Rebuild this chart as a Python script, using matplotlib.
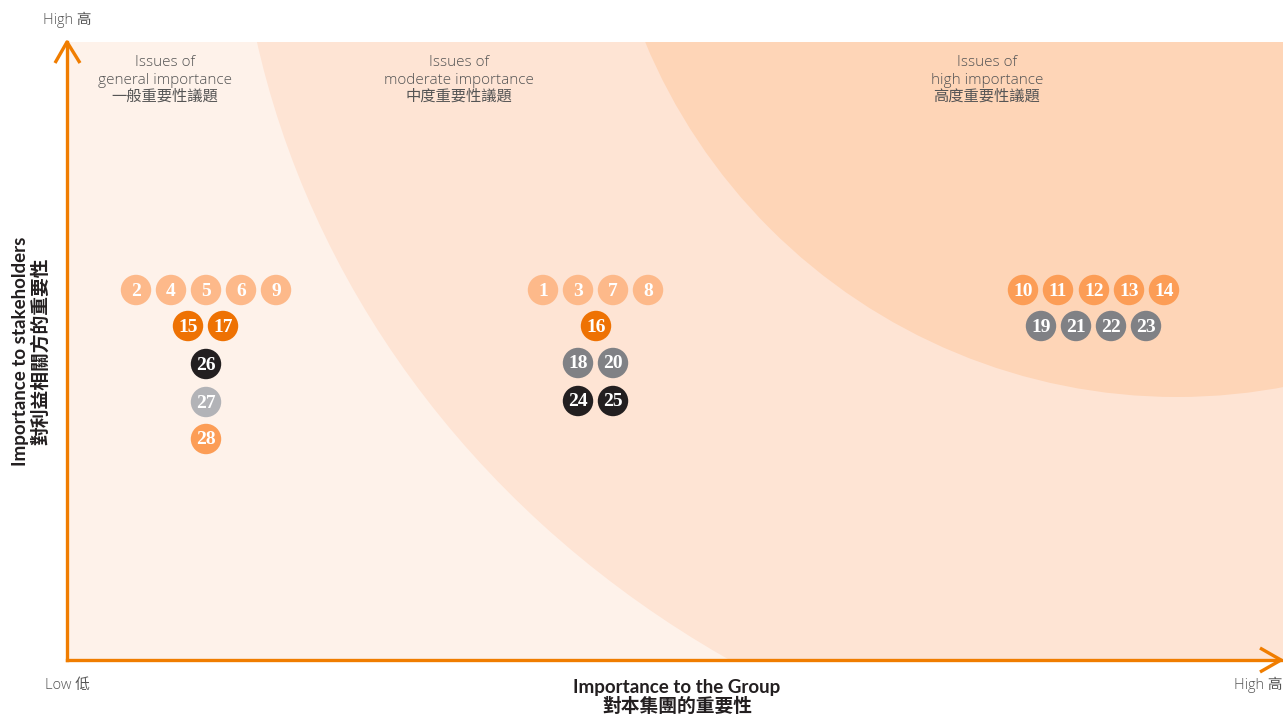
import matplotlib
matplotlib.use("Agg")
import matplotlib.pyplot as plt
from matplotlib.patches import Circle, Ellipse

# === Data (pixel-like units: x = importance to the group, y = importance to stakeholders) ===
issue_ids = [2, 4, 5, 6, 9, 15, 17, 26, 27, 28,
             1, 3, 7, 8, 16, 18, 20, 24, 25,
             10, 11, 12, 13, 14, 19, 21, 22, 23]
issue_x = [69, 104, 139, 174, 209, 121, 156, 139, 139, 139,
           476, 511, 546, 581, 529, 511, 546, 511, 546,
           956, 991, 1027, 1062, 1097, 974, 1009, 1044, 1079]
issue_y = [370, 370, 370, 370, 370, 334, 334, 296, 258, 221,
           370, 370, 370, 370, 334, 297, 297, 259, 259,
           370, 370, 370, 370, 370, 334, 334, 334, 334]
issue_group = ["light", "light", "light", "light", "light", "dark", "dark", "black", "silver", "mid",
               "light", "light", "light", "light", "dark", "grey", "grey", "black", "black",
               "mid", "mid", "mid", "mid", "mid", "grey", "grey", "grey", "grey"]

zone_titles = ["Issues of\ngeneral importance\n一般重要性議題",
               "Issues of\nmoderate importance\n中度重要性議題",
               "Issues of\nhigh importance\n高度重要性議題"]
zone_title_x = [98, 392, 920]

group_colors = {
  "light": "#FDB98A",
  "mid": "#FC9D56",
  "dark": "#EE7203",
  "grey": "#808185",
  "black": "#231F20",
  "silver": "#B2B3B7",
}

# === Figure ===
W, H = 1283, 716
fig = plt.figure(figsize=(W / 100, H / 100), dpi=100)
x0, x1, y0, y1 = 67, 1283, 56, 674  # axes box in pixels (from left / bottom)
ax = fig.add_axes([x0 / W, y0 / H, (x1 - x0) / W, (y1 - y0) / H])
ax.set_xlim(0, x1 - x0)
ax.set_ylim(0, y1 - y0)
ax.set_facecolor("#FEF2EA")
top = y1 - y0
right = x1 - x0

# Zones: moderate (big ellipse anchored above the top-right corner) and high (circle)
ax.add_patch(Ellipse((right, top + 192), 2095, 1908, facecolor="#FEE4D4", edgecolor="none", zorder=1))
ax.add_patch(Circle((1110, 839), 576, facecolor="#FED5B7", edgecolor="none", zorder=2))

# Axis lines with open arrowheads
orange = "#F07D00"
for s in ["top", "right"]:
  ax.spines[s].set_visible(False)
for s in ["left", "bottom"]:
  ax.spines[s].set_color(orange)
  ax.spines[s].set_linewidth(2.4)
  ax.spines[s].set_zorder(5)
ax.set_xticks([])
ax.set_yticks([])
tip = right - 2
ax.plot([-12, 0, 13], [top - 21, top, top - 21], color=orange, lw=2.4, clip_on=False, zorder=6,
        solid_capstyle="butt")
ax.plot([tip - 21, tip, tip - 21], [12, 0, -12], color=orange, lw=2.4, clip_on=False, zorder=6,
        solid_capstyle="butt")

# Bubbles
ax.scatter(issue_x, issue_y, s=480, c=[group_colors[g] for g in issue_group],
           edgecolors="none", zorder=7)
for i, x, y in zip(issue_ids, issue_x, issue_y):
  ax.text(x, y - 1, str(i), ha="center", va="center", color="white", fontsize=14,
          fontweight="bold", family=["Liberation Serif"], zorder=8)

# Zone titles
light_font = ["Open Sans", "Noto Sans CJK TC"]
for t, x in zip(zone_titles, zone_title_x):
  ax.text(x, top - 38, t, ha="center", va="center", fontsize=11, color="#555555",
          family=light_font, fontweight="light", linespacing=1.2, zorder=9)

# Axis labels
cjk = ["Lato", "Noto Sans CJK TC"]
fig.text(43 / W, 1 - 20 / H, "High 高", ha="left", va="center", fontsize=10.5, color="#555555",
         family=light_font, fontweight="light")
fig.text(45 / W, 1 - 685 / H, "Low 低", ha="left", va="center", fontsize=10.5, color="#555555",
         family=light_font, fontweight="light")
fig.text(1283 / W, 1 - 685 / H, "High 高", ha="right", va="center", fontsize=10.5, color="#555555",
         family=light_font, fontweight="light")
fig.text(677 / W, 1 - 697 / H, "Importance to the Group\n對本集團的重要性", ha="center", va="center",
         fontsize=13.5, fontweight="bold", color="#231F20", family=cjk, linespacing=1.1)
fig.text(31 / W, 1 - 351 / H, "Importance to stakeholders\n對利益相關方的重要性", ha="center",
         va="center", rotation=90, fontsize=13.5, fontweight="bold", color="#231F20", family=cjk,
         linespacing=1.1)

fig.savefig("out.png", dpi=100, facecolor="white")
